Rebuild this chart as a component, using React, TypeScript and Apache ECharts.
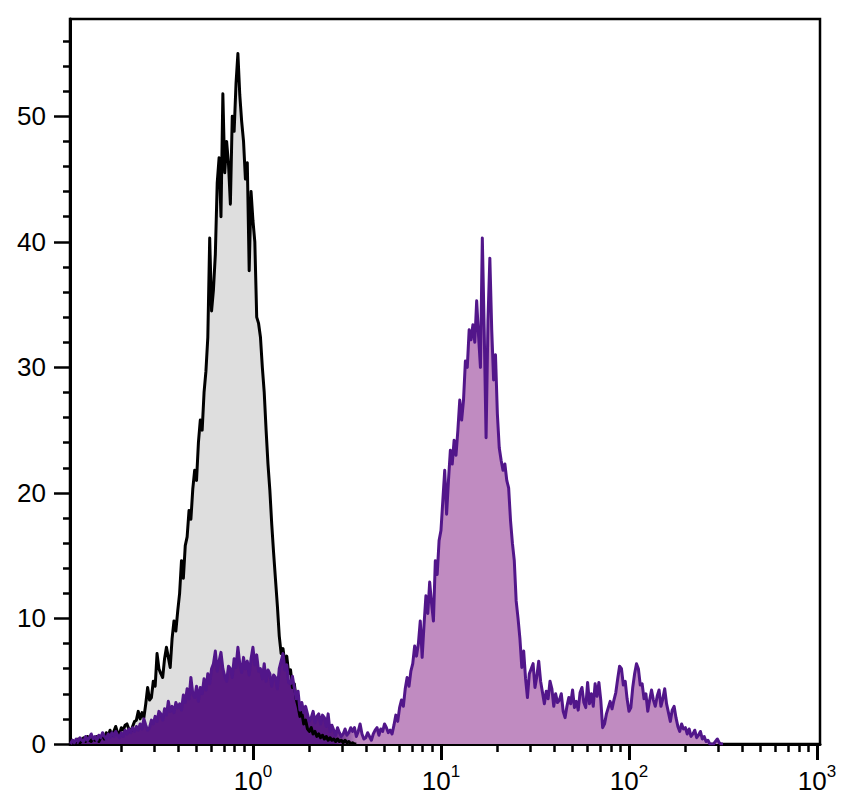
import React, { useEffect, useRef } from "react";
import * as echarts from "echarts";

// ---- axis ranges (log10 of intensity on x) ----
const LOG_MIN = -0.973;
const LOG_MAX = 3.016;
const Y_MAX = 57.75;
const BIN_STEP = 0.01;
const CONTROL_START = -0.97;
const SAMPLE_START = -0.97;

// ---- control (isotype) histogram, one value per bin of 0.01 decade from -0.97 ----
const controlCounts = [
  0, 0.3, 0, 0.2, 0.4, 0.1, 0.3, 0.5, 0.2, 0.6,
  0.3, 0.2, 0.5, 0.3, 0.6, 0.2, 0.5, 0.7, 0.4, 0.9,
  0.6, 1.1, 0.7, 1.0, 1.4, 0.9, 0.8, 1.3, 1.1, 1.5,
  1.6, 1.2, 1.0, 1.4, 1.8, 1.9, 2.6, 2.0, 2.5, 2.1,
  3.2, 4.5, 3.5, 3.7, 5.0, 4.6, 7.2, 6.0, 5.6, 5.3,
  6.8, 7.7, 6.9, 6.1, 8.4, 9.8, 9.0, 10.6, 12.0, 14.6,
  13.2, 15.8, 16.5, 18.6, 17.9, 20.3, 21.8, 21.0, 24.0, 25.8,
  25.0, 28.0, 29.7, 32.4, 40.3, 34.5, 36.2, 39.0, 44.7, 46.7,
  42.0, 51.8, 45.5, 48.0, 46.2, 43.0, 50.0, 48.8, 52.6, 55.0,
  51.7, 49.6, 48.0, 45.0, 46.3, 37.7, 44.0, 41.7, 40.0, 34.0,
  33.5, 32.4, 30.0, 28.0, 25.0, 22.3, 20.2, 17.5, 15.2, 13.1,
  11.0, 8.6, 7.2, 7.6, 6.4, 7.0, 5.6, 5.9, 4.5, 4.8,
  3.6, 3.0, 2.2, 2.5, 1.6, 1.9, 1.2, 1.0, 1.3, 0.8,
  1.0, 0.6, 0.8, 0.5, 0.7, 0.4, 0.6, 0.3, 0.5, 0.3,
  0.4, 0.2, 0.4, 0.2, 0.3, 0.1, 0.3, 0.1, 0.2, 0,
  0.1, 0, 0,
];

// ---- stained sample histogram, one value per bin of 0.01 decade from -0.97 ----
const sampleCounts = [
  0, 0.3, 0.1, 0.4, 0.2, 0.5, 0.3, 0.2, 0.6, 0.3,
  0.5, 0.8, 0.4, 0.6, 0.3, 0.7, 0.5, 0.9, 0.6, 0.4,
  0.8, 0.5, 0.9, 0.6, 1.0, 0.7, 0.5, 0.9, 0.6, 1.1,
  0.8, 1.2, 0.9, 1.3, 1.0, 1.4, 1.1, 1.6, 1.2, 2.0,
  1.5, 1.1, 1.3, 1.9, 1.6, 2.2, 1.8, 2.6, 2.4, 1.9,
  2.8, 2.3, 3.4, 2.6, 3.0, 2.5, 3.3, 2.9, 3.2, 2.7,
  3.9, 3.3, 4.4, 3.6, 5.3, 4.0, 3.7, 4.6, 3.4, 4.5,
  4.0, 5.2, 4.3, 5.6, 4.8, 6.0, 6.4, 7.4, 5.8, 6.6,
  7.3, 6.0, 5.4, 5.0, 6.2, 6.0, 5.3, 6.8, 6.1, 7.7,
  6.4, 5.7, 6.9, 6.0, 6.6, 5.5, 6.8, 7.7, 6.3, 7.1,
  5.8, 6.0, 5.2, 6.4, 5.0, 5.9, 5.6, 4.6, 5.5, 5.3,
  4.4, 6.0, 6.6, 7.2, 5.9, 6.3, 4.9, 4.8, 5.4, 4.5,
  3.6, 4.2, 2.7, 3.3, 2.5, 3.0, 2.4, 1.8, 2.1, 2.6,
  1.7, 2.2, 2.4, 1.6, 2.3, 2.1, 1.4, 2.4, 1.0, 1.5,
  1.1, 0.7, 1.3, 0.9, 0.6, 0.8, 1.2, 0.7, 0.9, 1.3,
  1.0, 1.3, 0.6, 1.0, 1.6, 0.8, 0.4, 0.5, 0.9, 0.6,
  0.3, 0.8, 1.1, 1.3, 0.7, 1.2, 1.0, 1.6, 1.3, 0.9,
  1.1, 0.8, 1.5, 2.3, 1.8, 2.9, 3.5, 3.0, 4.4, 5.3,
  4.6, 5.8, 6.4, 7.8, 7.0, 8.0, 9.8, 6.9, 9.5, 11.8,
  10.4, 12.9, 11.2, 9.8, 14.6, 13.5, 16.2, 17.0, 19.4, 21.8,
  18.3, 21.0, 23.4, 22.3, 24.2, 23.0, 25.0, 27.4, 25.8, 27.4,
  30.5, 30.0, 33.0, 32.2, 33.4, 32.0, 35.3, 32.5, 30.0, 40.3,
  33.0, 24.4, 33.7, 38.7, 33.0, 29.0, 31.0, 26.3, 23.6, 22.6,
  21.8, 22.3, 21.0, 20.4, 17.8, 16.0, 14.6, 11.4, 10.0, 8.4,
  6.1, 7.4, 5.2, 3.7, 5.6, 6.0, 6.4, 4.5, 5.4, 6.6,
  5.0, 4.1, 3.2, 4.2, 3.6, 5.0, 4.4, 3.0, 4.0, 3.3,
  3.5, 4.0, 2.6, 2.1, 3.0, 3.7, 3.2, 4.3, 2.9, 3.4,
  2.7, 4.1, 4.5, 3.3, 2.9, 4.9, 3.2, 4.0, 3.0, 4.8,
  3.8, 4.9, 3.5, 1.3, 1.6, 2.4, 2.9, 3.4, 2.8, 3.5,
  4.1, 5.2, 6.2, 6.0, 4.7, 5.0, 3.6, 2.6, 2.9, 4.5,
  5.6, 6.4, 6.0, 4.7, 4.8, 3.6, 4.0, 2.6, 3.5, 4.3,
  3.5, 3.0, 3.8, 4.3, 3.0, 3.6, 4.4, 3.2, 2.5, 1.8,
  2.7, 3.0, 2.1, 1.4, 1.0, 1.6, 1.2, 1.3, 0.8, 1.2,
  0.6, 0.8, 1.1, 0.5, 0.7, 1.0, 0.4, 0.6, 0.2, 0.3,
  0, 0, 0, 0.2, 0.4, 0.1, 0, 0,
];

// ---- ticks ----
const xMajorDecades = [0, 1, 2, 3];
const xMinorDecades = [-1, 0, 1, 2];
const xMinorMultipliers = [2, 3, 4, 5, 6, 7, 8, 9];
const yMajorTicks = [0, 10, 20, 30, 40, 50];
const yMinorTicks = [2, 4, 6, 8, 12, 14, 16, 18, 22, 24, 26, 28, 32, 34, 36, 38, 42, 44, 46, 48, 52, 54, 56];

const FONT = "Liberation Sans";

function toSeries(start: number, counts: number[]) {
  return counts.map((v, i) => [+(start + i * BIN_STEP).toFixed(3), v]);
}

export default function App() {
  const ref = useRef<HTMLDivElement>(null);
  useEffect(() => {
    if (!ref.current) return;
    const chart = echarts.init(ref.current, null, { renderer: "svg" });
    const xMinor: number[] = [];
    xMinorDecades.forEach((d) =>
      xMinorMultipliers.forEach((m) => {
        const v = d + Math.log10(m);
        if (v > LOG_MIN && v < LOG_MAX) xMinor.push(v);
      })
    );
    const sampleFill = new echarts.graphic.LinearGradient(0, 0, 1, 0, [
      { offset: 0, color: "#5a1984" },
      { offset: 0.405, color: "#5a1984" },
      { offset: 0.44, color: "#c08bc1" },
      { offset: 1, color: "#c08bc1" },
    ]);
    chart.setOption({
      animation: false,
      backgroundColor: "#ffffff",
      grid: {
        left: 70,
        right: 29,
        top: 19,
        bottom: 67,
        show: true,
        borderColor: "#000",
        borderWidth: 2.5,
        backgroundColor: "transparent",
      },
      xAxis: [
        {
          type: "value",
          min: LOG_MIN,
          max: LOG_MAX,
          position: "bottom",
          axisLine: { show: true, onZero: false, lineStyle: { color: "#000", width: 3 } },
          axisTick: {
            show: true,
            customValues: xMajorDecades,
            length: 16,
            lineStyle: { color: "#000", width: 3 },
          },
          axisLabel: {
            show: true,
            customValues: xMajorDecades,
            margin: 19,
            formatter: (v: number) => `{b|10}{s|${Math.round(v)}}`,
            rich: {
              b: { fontSize: 26, fontFamily: FONT, color: "#000", padding: [5, 0, 0, 0] },
              s: { fontSize: 17, fontFamily: FONT, color: "#000", verticalAlign: "top" },
            },
          },
          splitLine: { show: false },
        },
        {
          type: "value",
          min: LOG_MIN,
          max: LOG_MAX,
          position: "bottom",
          axisLine: { show: false, onZero: false },
          axisTick: {
            show: true,
            customValues: xMinor,
            length: 8,
            lineStyle: { color: "#000", width: 2.5 },
          },
          axisLabel: { show: false },
          splitLine: { show: false },
        },
      ],
      yAxis: [
        {
          type: "value",
          min: 0,
          max: Y_MAX,
          position: "left",
          axisLine: { show: true, onZero: false, lineStyle: { color: "#000", width: 3 } },
          axisTick: {
            show: true,
            customValues: yMajorTicks,
            length: 16,
            lineStyle: { color: "#000", width: 2.5 },
          },
          axisLabel: {
            show: true,
            customValues: yMajorTicks,
            margin: 24,
            fontSize: 26,
            fontFamily: FONT,
            color: "#000",
          },
          splitLine: { show: false },
        },
        {
          type: "value",
          min: 0,
          max: Y_MAX,
          position: "left",
          axisLine: { show: false, onZero: false },
          axisTick: {
            show: true,
            customValues: yMinorTicks,
            length: 7,
            lineStyle: { color: "#000", width: 2.5 },
          },
          axisLabel: { show: false },
          splitLine: { show: false },
        },
      ],
      series: [
        {
          name: "Control",
          type: "line",
          xAxisIndex: 0,
          yAxisIndex: 0,
          data: toSeries(CONTROL_START, controlCounts),
          symbol: "none",
          lineStyle: { color: "#000", width: 3, join: "round" },
          areaStyle: { color: "#dedede", opacity: 1 },
          silent: true,
        },
        {
          name: "Sample",
          type: "line",
          xAxisIndex: 0,
          yAxisIndex: 0,
          data: toSeries(SAMPLE_START, sampleCounts),
          symbol: "none",
          lineStyle: { color: "#52168a", width: 3, join: "round" },
          areaStyle: { color: sampleFill, opacity: 1 },
          silent: true,
        },
      ],
    });
    return () => chart.dispose();
  }, []);
  return (
    <div
      ref={ref}
      style={{ position: "fixed", left: 0, top: 0, width: 849, height: 811, background: "#fff" }}
    />
  );
}
